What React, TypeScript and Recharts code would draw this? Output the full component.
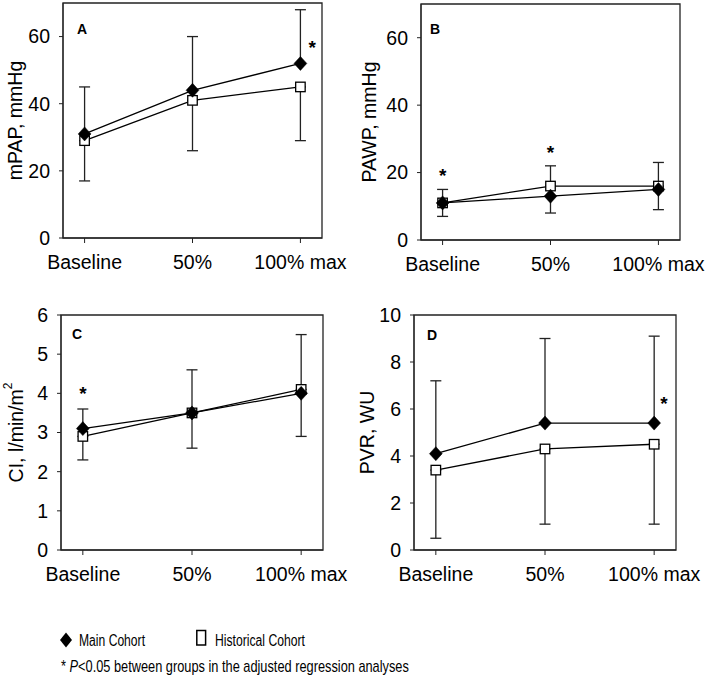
import React from 'react';
import { ComposedChart, Line, XAxis, YAxis, ErrorBar, Scatter, ReferenceArea } from 'recharts';

// ---------- data ----------
const categories = ['Baseline', '50%', '100% max'];
const catIndex = [0, 1, 2];

// Panel A: mPAP, mmHg
const mpapMain = [31, 44, 52];
const mpapHist = [29, 41, 45];
const mpapMainWhisker = [45, 60, 68];   // upper whisker (main)
const mpapHistWhisker = [17, 26, 29];   // lower whisker (historical)
const mpapStars = [{ x: 2.11, y: 58 }];
const mpapTicks = [0, 20, 40, 60];

// Panel B: PAWP, mmHg
const pawpMain = [11, 13, 15];
const pawpHist = [11, 16, 16];
const pawpMainWhisker = [7, 8, 9];      // lower whisker (main)
const pawpHistWhisker = [15, 22, 23];   // upper whisker (historical)
const pawpStars = [{ x: 0, y: 20.2 }, { x: 1, y: 27 }];
const pawpTicks = [0, 20, 40, 60];

// Panel C: CI, l/min/m2
const ciMain = [3.1, 3.5, 4.0];
const ciHist = [2.9, 3.5, 4.1];
const ciMainWhisker = [3.6, 4.6, 5.5];
const ciHistWhisker = [2.3, 2.6, 2.9];
const ciStars = [{ x: 0, y: 4.1 }];
const ciTicks = [0, 1, 2, 3, 4, 5, 6];

// Panel D: PVR, WU
const pvrMain = [4.1, 5.4, 5.4];
const pvrHist = [3.4, 4.3, 4.5];
const pvrMainWhisker = [7.2, 9.0, 9.1];
const pvrHistWhisker = [0.5, 1.1, 1.1];
const pvrStars = [{ x: 2.09, y: 6.4 }];
const pvrTicks = [0, 2, 4, 6, 8, 10];

// ---------- helpers ----------
const FONT = 'Arial, "Liberation Sans", Helvetica, sans-serif';

function buildRows(main: number[], hist: number[], mainW: number[], histW: number[]) {
  return catIndex.map((x, i) => {
    const mErr = mainW[i] >= main[i] ? [0, mainW[i] - main[i]] : [main[i] - mainW[i], 0];
    const hErr = histW[i] >= hist[i] ? [0, histW[i] - hist[i]] : [hist[i] - histW[i], 0];
    return { x, main: main[i], hist: hist[i], mainErr: mErr, histErr: hErr };
  });
}

const DiamondDot = (p: any) => {
  const { cx, cy, index } = p;
  if (cx == null || cy == null) return <g key={`dd-${index}`} />;
  const w = 6.4, h = 7;
  return (
    <path key={`dd-${index}`} d={`M${cx},${cy - h}L${cx + w},${cy}L${cx},${cy + h}L${cx - w},${cy}Z`} fill="#000" stroke="#000" strokeWidth={0.5} />
  );
};

const SquareDot = (p: any) => {
  const { cx, cy, index } = p;
  if (cx == null || cy == null) return <g key={`sd-${index}`} />;
  const s = 9.5;
  return <rect key={`sd-${index}`} x={cx - s / 2} y={cy - s / 2} width={s} height={s} fill="#fff" stroke="#000" strokeWidth={1.3} />;
};

const StarShape = (p: any) => {
  const { cx, cy } = p;
  return (
    <text x={cx} y={cy + 10.5} textAnchor="middle" fontSize={19} fontWeight="bold" fontFamily={FONT} fill="#000">*</text>
  );
};

const makeYLabel = (text: string, sup: string | null, xPos: number) => (props: any) => {
  const vb = props.viewBox || { x: 0, y: 0, width: 0, height: 0 };
  const cx = vb.x + xPos;
  const cy = vb.y + vb.height / 2;
  return (
    <text x={cx} y={cy} transform={`rotate(-90, ${cx}, ${cy})`} textAnchor="middle" dominantBaseline="central" fontSize={19.5} fontFamily={FONT} fill="#000">
      {text}
      {sup ? <tspan dy={-8} fontSize={12}>{sup}</tspan> : null}
    </text>
  );
};

interface PanelProps {
  left: number; top: number; width: number; height: number;
  yAxisWidth: number; marginTop: number; marginRight: number; marginBottom: number;
  yMax: number; ticks: number[];
  main: number[]; hist: number[]; mainW: number[]; histW: number[];
  stars: { x: number; y: number }[];
  label: string; labelSup: string | null; labelX: number;
}

function Panel(props: PanelProps) {
  const rows = buildRows(props.main, props.hist, props.mainW, props.histW);
  return (
    <div style={{ position: 'absolute', left: props.left, top: props.top }}>
      <ComposedChart
        width={props.width}
        height={props.height}
        data={rows}
        margin={{ top: props.marginTop, right: props.marginRight, bottom: props.marginBottom, left: 0 }}
      >
        <XAxis
          type="number"
          dataKey="x"
          domain={[-0.2, 2.2]}
          ticks={catIndex}
          tickFormatter={(v: number) => categories[v] ?? ''}
          height={45}
          tickSize={5}
          tickMargin={12}
          stroke="#222"
          tick={{ fill: '#000', fontSize: 19.5, fontFamily: FONT }}
          allowDataOverflow
        />
        <YAxis
          type="number"
          domain={[0, props.yMax]}
          ticks={props.ticks}
          width={props.yAxisWidth}
          tickSize={4}
          tickMargin={9}
          stroke="#222"
          tick={{ fill: '#000', fontSize: 19.5, fontFamily: FONT }}
          allowDataOverflow
          label={makeYLabel(props.label, props.labelSup, props.labelX)}
        />
        <ReferenceArea x1={-0.2} x2={2.2} y1={0} y2={props.yMax} fill="none" fillOpacity={0} stroke="#222" strokeWidth={1.3} ifOverflow="visible" />
        <Line type="linear" dataKey="hist" stroke="#000" strokeWidth={1.3} dot={SquareDot} activeDot={false} isAnimationActive={false}>
          <ErrorBar dataKey="histErr" direction="y" width={5.5} stroke="#222" strokeWidth={1.3} />
        </Line>
        <Line type="linear" dataKey="main" stroke="#000" strokeWidth={1.3} dot={DiamondDot} activeDot={false} isAnimationActive={false}>
          <ErrorBar dataKey="mainErr" direction="y" width={5.5} stroke="#222" strokeWidth={1.3} />
        </Line>
        <Scatter data={props.stars} dataKey="y" shape={StarShape} isAnimationActive={false} />
      </ComposedChart>
    </div>
  );
}

export default function App() {
  return (
    <div style={{ position: 'absolute', left: 0, top: 0, width: 709, height: 686, background: '#fff', overflow: 'hidden' }}>
      <Panel left={0} top={0} width={354} height={300} yAxisWidth={63} marginTop={3} marginRight={32} marginBottom={17}
        yMax={70} ticks={mpapTicks} main={mpapMain} hist={mpapHist} mainW={mpapMainWhisker} histW={mpapHistWhisker}
        stars={mpapStars} label="mPAP, mmHg" labelSup={null} labelX={15} />
      <Panel left={354} top={0} width={355} height={300} yAxisWidth={67} marginTop={4} marginRight={29} marginBottom={15}
        yMax={70} ticks={pawpTicks} main={pawpMain} hist={pawpHist} mainW={pawpMainWhisker} histW={pawpHistWhisker}
        stars={pawpStars} label="PAWP, mmHg" labelSup={null} labelX={15} />
      <Panel left={0} top={300} width={354} height={300} yAxisWidth={61} marginTop={15} marginRight={31} marginBottom={5}
        yMax={6} ticks={ciTicks} main={ciMain} hist={ciHist} mainW={ciMainWhisker} histW={ciHistWhisker}
        stars={ciStars} label="CI, l/min/m" labelSup="2" labelX={16} />
      <Panel left={354} top={300} width={355} height={300} yAxisWidth={60} marginTop={15} marginRight={33} marginBottom={5}
        yMax={10} ticks={pvrTicks} main={pvrMain} hist={pvrHist} mainW={pvrMainWhisker} histW={pvrHistWhisker}
        stars={pvrStars} label="PVR, WU" labelSup={null} labelX={13} />
      <svg width={709} height={686} style={{ position: 'absolute', left: 0, top: 0, pointerEvents: 'none' }}>
        <g fontFamily={FONT} fontWeight="bold" fontSize={14} fill="#000">
          <text x={77} y={33.5}>A</text>
          <text x={430} y={33.5}>B</text>
          <text x={72} y={338.5}>C</text>
          <text x={427} y={339.5}>D</text>
        </g>
        <path d="M66,632.5L72,640L66,647.5L60,640Z" fill="#000" />
        <rect x={196.8} y={630.5} width={8.8} height={14.5} fill="#fff" stroke="#000" strokeWidth={1.5} />
        <g fontFamily={FONT} fontSize={16} fill="#000">
          <text x={79} y={646} textLength={66} lengthAdjust="spacingAndGlyphs">Main Cohort</text>
          <text x={215} y={646} textLength={90} lengthAdjust="spacingAndGlyphs">Historical Cohort</text>
        </g>
        <g transform="translate(61,671.5) scale(0.8,1)" fontFamily={FONT} fontSize={16} fill="#000">
          <text x={0} y={0}>{'* '}<tspan fontStyle="italic">P</tspan>{'<0.05 between groups in the adjusted regression analyses'}</text>
        </g>
      </svg>
    </div>
  );
}
